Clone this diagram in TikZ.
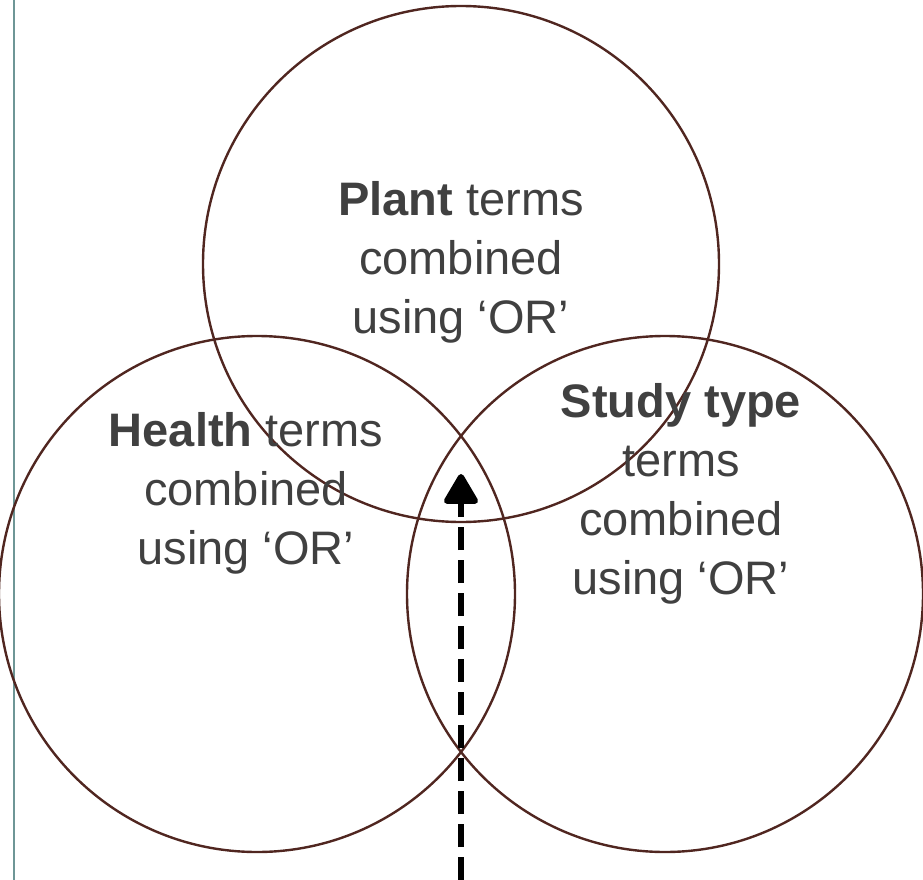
\documentclass[tikz,border=0pt]{standalone}
\usepackage{fontspec}
\setmainfont{Liberation Sans}
\usetikzlibrary{positioning,arrows.meta}
\definecolor{ringcol}{RGB}{80,38,32}
\definecolor{textcol}{RGB}{64,64,64}
\definecolor{edgecol}{RGB}{110,150,150}
\tikzset{
  ring/.style={circle,draw=ringcol,line width=2.4pt,inner sep=0pt,minimum size=516pt},
  setlabel/.style={text=textcol,align=center,font=\fontsize{47}{59}\selectfont},
}
\begin{document}
\begin{tikzpicture}[x=1pt,y=-1pt]
  \useasboundingbox (0,0) rectangle (923,880);
  \draw [edgecol, line width=2.5pt] (14,0) to (14,880);
		\node[ring] (plant) at (461,264) {};
		\node[ring] (health) at (257,594) {};
		\node[ring] (study) at (665,594) {};
		\node[setlabel] (plantlbl) at (461,262) {\textbf{Plant} terms\\combined\\using `OR'};
		\node[setlabel] (healthlbl) at (246,493) {\textbf{Health} terms\\combined\\using `OR'};
		\node[setlabel] (studylbl) at (681,494) {\textbf{Study type}\\terms\\combined\\using `OR'};
		\coordinate (start) at (461,880);
		\coordinate (tip) at (461,474);
		\draw [black, line width=6pt, dash pattern=on 23pt off 10pt,
		  -{Triangle[length=33pt,width=37pt,round]}] (start) to (tip);
              \end{tikzpicture}
\end{document}
